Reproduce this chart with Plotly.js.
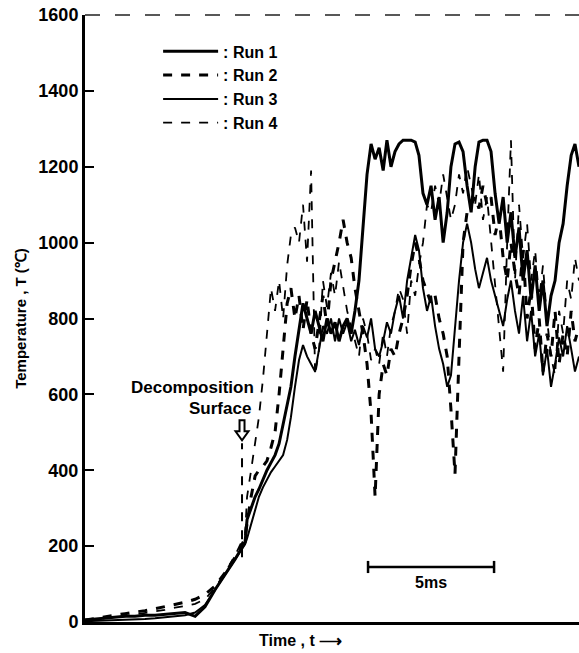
<!DOCTYPE html>
<html>
<head>
<meta charset="utf-8">
<script src="https://cdn.plot.ly/plotly-3.0.1.min.js"></script>
<style>html,body{margin:0;padding:0;background:#fff;}#chart{width:579px;height:653px;}</style>
</head>
<body>
<div id="chart"></div>
<script>
// Time axis (ms), shared by all runs
const timeMs = [0,0.40,0.79,1.19,1.59,1.98,2.38,2.78,3.17,3.57,3.97,4.37,4.76,5.16,5.56,5.95,6.35,
6.43,6.59,6.75,6.90,7.06,7.22,7.38,7.54,7.70,7.86,8.02,8.17,8.33,8.49,8.65,8.81,8.97,9.13,9.29,9.44,
9.60,9.76,9.92,10.08,10.24,10.40,10.56,10.71,10.87,11.03,11.19,11.35,11.51,11.67,11.83,11.98,12.14,12.30,
12.46,12.62,12.78,12.94,13.10,13.25,13.41,13.57,13.73,13.89,14.05,14.21,14.37,14.52,14.68,14.84,15.00,
15.16,15.32,15.48,15.63,15.79,15.95,16.11,16.27,16.43,16.59,16.75,16.90,17.06,17.22,17.38,17.54,17.70,
17.86,18.02,18.17,18.33,18.49,18.65,18.81,18.97,19.13,19.29,19.44,19.60];

// Temperature (°C)
const run1 = [5,8,10,12,15,15,18,18,20,22,25,15,40,85,125,165,210,
270,300,330,350,375,400,420,440,470,520,570,620,700,770,840,800,760,820,780,740,
800,760,790,740,780,800,760,820,900,1050,1180,1260,1220,1250,1190,1270,1200,1240,
1260,1270,1270,1270,1265,1230,1130,1100,1150,1060,1120,1000,1080,1200,1260,1265,1240,
1150,1080,1200,1265,1270,1270,1240,1130,1050,1120,1000,1080,960,1040,900,980,850,
940,820,900,780,860,900,1000,1050,1150,1230,1260,1200];

const run2 = [5,10,15,18,22,25,30,35,40,45,52,60,72,95,130,170,220,
260,330,385,400,410,425,460,500,600,730,840,880,800,860,770,850,760,720,800,860,
780,900,950,1000,1060,1000,960,880,820,760,680,550,330,600,680,650,720,700,
760,800,860,940,1000,960,900,870,840,860,800,760,700,560,390,700,1000,
1080,1100,1120,1090,1150,1100,1120,1020,1070,960,900,1000,920,860,980,800,880,
720,800,660,760,700,820,680,760,700,820,740,780];

const run3 = [2,3,4,5,5,6,8,10,12,15,18,25,45,85,125,165,205,
220,260,300,330,355,375,395,410,425,440,480,540,620,690,730,700,680,660,720,780,
760,800,740,800,760,790,740,770,730,780,750,800,720,700,740,790,760,820,
860,800,900,960,1020,980,880,820,860,780,720,680,620,650,780,900,1000,
1050,1000,930,880,920,960,900,860,820,780,850,900,820,760,860,740,820,
700,760,650,720,620,680,750,700,780,720,660,700];

const run4 = [3,5,10,12,15,20,25,28,32,38,42,48,60,90,130,175,230,
330,400,470,540,640,770,880,820,900,800,940,1020,1040,1000,1100,950,1190,650,720,900,
830,920,860,950,880,820,780,740,700,800,760,690,720,680,760,700,780,820,
880,850,760,900,860,940,1000,1100,1080,1150,1100,1180,1120,1060,1100,1180,1130,
1200,1150,1100,1180,1060,1120,1000,880,780,660,1000,1270,900,1100,960,1050,900,
980,850,940,800,700,650,820,760,900,850,960,900];

const runNames = [": Run 1", ": Run 2", ": Run 3", ": Run 4"];
const yTicks = [0,200,400,600,800,1000,1200,1400,1600];

// scale bar (5 ms) and decomposition-surface marker, in data units
const scaleBarStart = 11.23, scaleBarLen = 5, scaleBarT = 145;
const decompT = 6.23, decompTop = 471, decompBottom = 171;

const F = "'Liberation Sans', Arial, sans-serif";
const styles = [
  {color:'#000', width:3, dash:'solid'},
  {color:'#000', width:3, dash:'dash'},
  {color:'#000', width:2, dash:'solid'},
  {color:'#000', width:1.8, dash:'dash'}
];
const series = [run1, run2, run3, run4];
const traces = series.map((s,i)=>({
  x: timeMs, y: s, type:'scatter', mode:'lines', name: runNames[i],
  line: styles[i], hoverinfo:'x+y'
}));

const layout = {
  width:579, height:653,
  margin:{l:85, r:0, t:15, b:31},
  paper_bgcolor:'#fff', plot_bgcolor:'#fff',
  showlegend:true,
  legend:{x:0.148, y:0.968, xanchor:'left', yanchor:'top', itemwidth:55,
    font:{family:F, size:16, color:'#000', weight:'bold'}, bgcolor:'rgba(0,0,0,0)', tracegroupgap:0},
  xaxis:{range:[0,19.6], showticklabels:false, ticks:'', showgrid:false, zeroline:false,
    showline:true, linecolor:'#000', linewidth:3},
  yaxis:{range:[0,1600], tickvals:yTicks, ticktext:yTicks.map(String), ticks:'inside', ticklen:9, tickwidth:2,
    tickcolor:'#000', showgrid:false, zeroline:false, showline:true, linecolor:'#000', linewidth:3,
    tickfont:{family:F, size:18, color:'#000', weight:'bold'},
    title:{text:'Temperature , T (℃)', font:{family:F, size:15, color:'#000', weight:'bold'}, standoff:9}},
  shapes:[
    {type:'line', xref:'paper', yref:'paper', x0:0, x1:1, y0:1, y1:1, line:{color:'#222', width:1.5, dash:'longdash'}},
    {type:'line', x0:scaleBarStart, x1:scaleBarStart+scaleBarLen, y0:scaleBarT, y1:scaleBarT, line:{color:'#000', width:2.5}},
    {type:'line', x0:scaleBarStart, x1:scaleBarStart, y0:scaleBarT-16, y1:scaleBarT+16, line:{color:'#000', width:2.5}},
    {type:'line', x0:scaleBarStart+scaleBarLen, x1:scaleBarStart+scaleBarLen, y0:scaleBarT-16, y1:scaleBarT+16, line:{color:'#000', width:2.5}},
    {type:'line', x0:decompT, x1:decompT, y0:decompBottom, y1:decompTop, line:{color:'#000', width:2, dash:'dash'}},
    {type:'path', xsizemode:'pixel', ysizemode:'pixel', xanchor:decompT, yanchor:decompTop+8,
      path:'M -2.5 20 L 2.5 20 L 2.5 9 L 6.5 9 L 0 0 L -6.5 9 L -2.5 9 Z',
      line:{color:'#000', width:2}, fillcolor:'#fff'}
  ],
  annotations:[
    {x:scaleBarStart+scaleBarLen/2, y:scaleBarT, yshift:-16, text:'5ms', showarrow:false, yanchor:'middle',
      font:{family:F, size:16, color:'#000', weight:'bold'}},
    {xref:'paper', yref:'paper', x:0.217, y:0.386, text:'Decomposition', showarrow:false, xanchor:'center', yanchor:'middle',
      font:{family:F, size:17, color:'#000', weight:'bold'}},
    {xref:'paper', yref:'paper', x:0.34, y:0.352, text:'Surface', showarrow:false, xanchor:'right', yanchor:'middle',
      font:{family:F, size:17, color:'#000', weight:'bold'}},
    {xref:'paper', yref:'paper', x:0.437, y:-0.03, text:'Time , t ⟶', showarrow:false, xanchor:'center', yanchor:'middle',
      font:{family:F, size:16, color:'#000', weight:'bold'}}
  ]
};
Plotly.newPlot('chart', traces, layout, {displayModeBar:false, staticPlot:true});
</script>
</body>
</html>
